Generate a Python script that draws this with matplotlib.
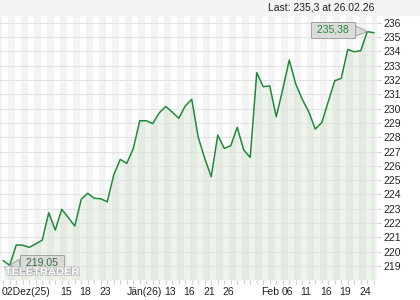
#!/usr/bin/env python3
"""Price line chart, TeleTrader style (Dez 25 - Feb 26)."""

import matplotlib
matplotlib.use("Agg")
import matplotlib.pyplot as plt
import matplotlib.patheffects as pe
import numpy as np

plt.rcParams.update({
    "font.family": ["Liberation Sans", "DejaVu Sans"],
    "font.size": 7.5,
})

# closing prices, one per trading day (02.12.25 .. 26.02.26)
PRICES = [
    219.37, 219.05, 220.47, 220.45, 220.30, 220.54, 220.81, 222.72, 221.51, 222.96,
    222.39, 221.79, 223.66, 224.08, 223.73, 223.70, 223.49, 225.36, 226.45, 226.17,
    227.20, 229.15, 229.15, 228.95, 229.70, 230.15, 229.75, 229.32, 230.18, 230.65,
    227.99, 226.52, 225.24, 228.15, 227.22, 227.40, 228.69, 227.10, 226.59, 232.51,
    231.53, 231.58, 229.43, 231.35, 233.39, 231.72, 230.65, 229.78, 228.57, 229.01,
    230.48, 231.95, 232.11, 234.13, 233.97, 234.04, 235.38, 235.30,
]
TICK_LABELS = ["02Dez(25)", "15", "18", "23", "Jän(26)", "13", "16", "21", "26",
               "Feb", "06", "11", "16", "19", "24"]
TICK_DAYS = [0, 9, 12, 15, 19.2, 25, 28, 31, 34, 40, 43, 46, 49, 52, 55]
Y_TICKS = list(range(219, 237))
LAST_TEXT = "Last: 235,3 at 26.02.26"
MAX_LABEL = "235,38"
MIN_LABEL = "219,05"

GREEN = "#1f8a3b"
GRID = "#e2e2e2"

fig = plt.figure(figsize=(4.2, 3.0), dpi=100)
fig.patches.append(plt.Rectangle((0, 285 / 300), 1, 15 / 300, transform=fig.transFigure,
                                 color="#f3f3f3", zorder=0))
ax = fig.add_axes([0, 20 / 300, 377 / 420, 265 / 300])

x = np.arange(len(PRICES))
vals = np.array(PRICES)
ymin, ymax = 218.02, 236.54

# alternating day stripes
for k in range(-1, len(PRICES) + 1, 2):
    ax.axvspan(k - 0.25, k + 0.75, color="#f3f3f3", lw=0, zorder=0)

ax.fill_between(x, vals, ymin, color="#a9c9a1", alpha=0.2, lw=0, zorder=1)
for yv in Y_TICKS:
    ax.axhline(yv, color=GRID, lw=0.8, zorder=1.5)
ax.plot(x, vals, color=GREEN, lw=1.1, zorder=3)

ax.set_xlim(-0.5, 57.5)
ax.set_ylim(ymin, ymax)
for s in ax.spines.values():
    s.set_visible(False)

ax.yaxis.tick_right()
ax.set_yticks(Y_TICKS)
ax.tick_params(axis="y", length=3, width=0.8, color="#cfcfcf", pad=1.5,
               labelsize=7.5, labelcolor="#222222")
ax.set_xticks(x)
ax.set_xticklabels([])
ax.tick_params(axis="x", length=3, width=0.8, color="#cfcfcf", pad=1)

trans = ax.get_xaxis_transform()
for pos, lab in zip(TICK_DAYS, TICK_LABELS):
    ax.text(pos - 0.25, -0.045, lab, transform=trans, ha="left", va="center",
            fontsize=7.5, color="#222222", clip_on=False)

fig.text(374 / 420, 1 - 7 / 300, LAST_TEXT, ha="right", va="center",
         fontsize=7.5, color="#222222")

# max / min callouts
imax, imin = int(np.argmax(vals)), int(np.argmin(vals))
box = dict(boxstyle="square,pad=0.3", fc="#d9d9d9", ec="#9a9a9a", lw=0.7, alpha=0.9)
wedge = dict(arrowstyle="wedge,tail_width=1.0,shrink_factor=0.5", fc="#d9d9d9",
             ec="#9a9a9a", lw=0.7, alpha=0.9, shrinkA=0, shrinkB=0)
ax.annotate(f" {MAX_LABEL} ", xy=(imax, vals[imax]), xytext=(-24.5, 1.2),
            textcoords="offset points", ha="center", va="center", color=GREEN,
            fontsize=7.5, bbox=box, arrowprops=wedge, zorder=5)
ax.annotate(f" {MIN_LABEL} ", xy=(imin, vals[imin]), xytext=(23.2, 1.7),
            textcoords="offset points", ha="center", va="center", color="#2f6e3f",
            fontsize=7.5, bbox=box, arrowprops=wedge, zorder=5)

# watermark
ax.text(42 / 377, (280 - 272) / 265, "TELETRADER", transform=ax.transAxes,
        ha="center", va="center", fontsize=8, fontweight="bold", color="white",
        zorder=6, path_effects=[pe.withStroke(linewidth=1.2, foreground="#b5b5b5")])

fig.savefig("out.png", dpi=100)
